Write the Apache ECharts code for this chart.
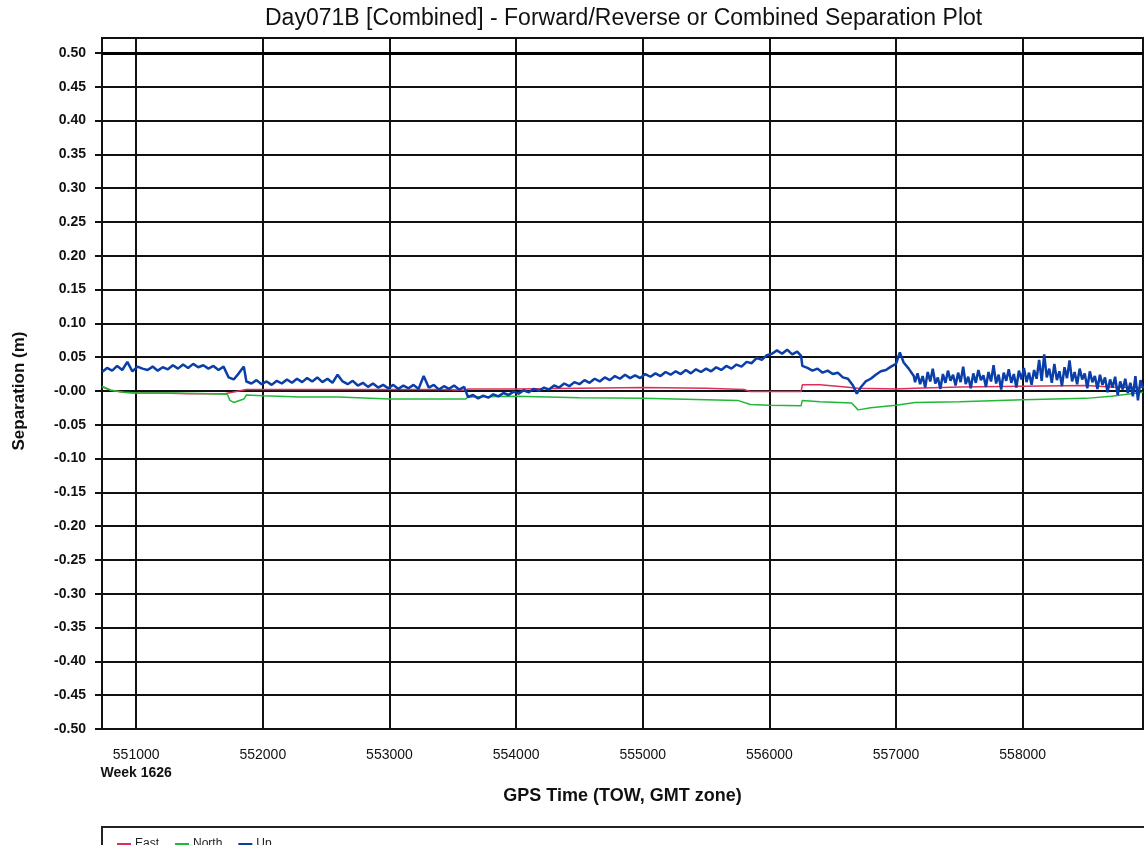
<!DOCTYPE html>
<html>
<head>
<meta charset="utf-8">
<script src="https://cdn.jsdelivr.net/npm/echarts@6/dist/echarts.min.js"></script>
<style>
html,body{margin:0;padding:0;background:#fff;}
#chart{width:1144px;height:845px;}
</style>
</head>
<body>
<div id="chart"></div>
<script>
// ---- data ----
const titleText = 'Day071B [Combined] - Forward/Reverse or Combined Separation Plot';
const xAxisName = 'GPS Time (TOW, GMT zone)';
const yAxisName = 'Separation (m)';
const seriesNames = ['East', 'North', 'Up'];
const weekLabel = 'Week 1626';
const yTickLabels = ['-0.50','-0.45','-0.40','-0.35','-0.30','-0.25','-0.20','-0.15','-0.10','-0.05','-0.00',
                     '0.05','0.10','0.15','0.20','0.25','0.30','0.35','0.40','0.45','0.50'];

const eastData = [
  [550730,0.006],[550800,0.001],[550900,-0.002],[551000,-0.003],[551200,-0.003],[551400,-0.004],
  [551600,-0.004],[551700,-0.004],[551760,-0.002],[551870,0.002],[552200,0.002],[552600,0.002],
  [553000,0.002],[553400,0.002],[553600,0.001],[553620,0.003],[554000,0.003],[554500,0.004],
  [555000,0.005],[555500,0.004],[555800,0.002],[555850,-0.001],[556000,-0.001],[556250,-0.001],
  [556260,0.009],[556400,0.009],[556600,0.006],[556700,0.004],[557000,0.003],[557150,0.004],
  [557500,0.006],[558000,0.007],[558500,0.008],[558700,0.006],[558950,0.005]
];

const northData = [
  [550730,0.007],[550800,0.001],[550900,-0.002],[551000,-0.003],[551300,-0.003],[551600,-0.004],
  [551720,-0.005],[551740,-0.014],[551770,-0.017],[551850,-0.012],[551870,-0.006],[552000,-0.007],
  [552300,-0.009],[552600,-0.009],[553000,-0.012],[553300,-0.012],[553600,-0.012],[553620,-0.009],
  [554000,-0.008],[554500,-0.010],[555000,-0.011],[555500,-0.013],[555750,-0.014],[555850,-0.020],
  [556000,-0.021],[556250,-0.022],[556260,-0.014],[556400,-0.016],[556650,-0.018],[556700,-0.028],
  [556800,-0.025],[557000,-0.021],[557150,-0.017],[557500,-0.016],[558000,-0.013],[558500,-0.011],
  [558700,-0.008],[558950,-0.002]
];

const upData = [
  [550730,0.028],[550770,0.034],[550810,0.030],[550850,0.037],[550890,0.031],[550930,0.043],
  [550970,0.029],[551010,0.036],[551050,0.033],[551090,0.031],[551130,0.036],[551170,0.030],
  [551210,0.035],[551250,0.032],[551290,0.038],[551330,0.033],[551370,0.039],[551410,0.034],
  [551450,0.040],[551490,0.035],[551530,0.038],[551570,0.033],[551610,0.037],[551650,0.031],
  [551690,0.036],[551730,0.020],[551770,0.017],[551810,0.026],[551850,0.036],[551870,0.014],
  [551910,0.011],[551950,0.016],[551990,0.010],[552030,0.014],[552070,0.009],[552110,0.015],
  [552150,0.011],[552190,0.017],[552230,0.012],[552270,0.018],[552310,0.013],[552350,0.019],
  [552390,0.014],[552430,0.020],[552470,0.013],[552510,0.018],[552550,0.012],[552590,0.024],
  [552630,0.014],[552670,0.010],[552710,0.015],[552750,0.008],[552790,0.012],[552830,0.006],
  [552870,0.011],[552910,0.005],[552950,0.009],[552990,0.004],[553030,0.009],[553070,0.003],
  [553110,0.008],[553150,0.004],[553190,0.009],[553230,0.003],[553270,0.022],[553310,0.005],
  [553350,0.009],[553390,0.002],[553430,0.007],[553470,0.003],[553510,0.008],[553550,0.002],
  [553590,0.006],[553620,-0.009],[553660,-0.006],[553700,-0.011],[553740,-0.007],[553780,-0.010],
  [553820,-0.005],[553860,-0.008],[553900,-0.003],[553940,-0.006],[553980,-0.001],[554020,-0.004],
  [554060,0.001],[554100,-0.002],[554140,0.003],[554180,0.000],[554220,0.005],[554260,0.002],
  [554300,0.008],[554340,0.005],[554380,0.011],[554420,0.007],[554460,0.013],[554500,0.010],
  [554540,0.016],[554580,0.012],[554620,0.018],[554660,0.014],[554700,0.020],[554740,0.016],
  [554780,0.022],[554820,0.018],[554860,0.024],[554900,0.019],[554940,0.023],[554980,0.019],
  [555020,0.025],[555060,0.021],[555100,0.026],[555140,0.022],[555180,0.028],[555220,0.024],
  [555260,0.029],[555300,0.025],[555340,0.031],[555380,0.026],[555420,0.032],[555460,0.028],
  [555500,0.033],[555540,0.029],[555580,0.035],[555620,0.031],[555660,0.037],[555700,0.033],
  [555740,0.039],[555780,0.036],[555820,0.043],[555860,0.041],[555900,0.049],[555940,0.046],
  [555980,0.053],[556020,0.055],[556060,0.060],[556100,0.055],[556140,0.061],[556180,0.054],
  [556220,0.058],[556250,0.052],[556260,0.037],[556300,0.034],[556340,0.030],[556380,0.033],
  [556420,0.027],[556460,0.030],[556500,0.025],[556540,0.027],[556580,0.020],[556620,0.018],
  [556660,0.008],[556690,-0.004],[556720,0.005],[556760,0.014],[556800,0.018],[556840,0.024],
  [556880,0.029],[556920,0.031],[556960,0.036],[557000,0.040],[557030,0.057],[557060,0.042],
  [557100,0.033],[557140,0.022],
  [557150,0.013],[557170,0.026],[557190,0.010],[557210,0.022],[557230,0.005],[557250,0.028],
  [557270,0.014],[557290,0.033],[557310,0.011],[557330,0.020],[557350,0.003],[557370,0.025],
  [557390,0.012],[557410,0.030],[557430,0.015],[557450,0.024],[557470,0.008],[557490,0.027],
  [557510,0.013],[557530,0.036],[557550,0.010],[557570,0.021],[557590,0.004],[557610,0.026],
  [557630,0.012],[557650,0.031],[557670,0.016],[557690,0.023],[557710,0.006],[557730,0.028],
  [557750,0.014],[557770,0.038],[557790,0.011],[557810,0.024],[557830,0.002],[557850,0.027],
  [557870,0.015],[557890,0.032],[557910,0.012],[557930,0.025],[557950,0.005],[557970,0.030],
  [557990,0.017],[558010,0.034],[558030,0.013],[558050,0.027],[558070,0.009],[558090,0.031],
  [558110,0.018],[558130,0.046],[558150,0.015],[558170,0.054],[558190,0.020],[558210,0.033],
  [558230,0.012],[558250,0.040],[558270,0.016],[558290,0.029],[558310,0.007],[558330,0.035],
  [558350,0.019],[558370,0.045],[558390,0.014],[558410,0.028],[558430,0.010],[558450,0.033],
  [558470,0.017],[558490,0.026],[558510,0.004],[558530,0.029],[558550,0.013],[558570,0.022],
  [558590,0.003],[558610,0.024],[558630,0.009],[558650,0.020],[558670,-0.002],[558690,0.017],
  [558710,0.005],[558730,0.021],[558750,-0.006],[558770,0.014],[558790,0.002],[558810,0.018],
  [558830,-0.003],[558850,0.012],[558870,-0.008],[558890,0.022],[558910,-0.014],[558930,0.016],
  [558950,0.004]
];

const xMin = 550730, xMax = 558950;
const yMin = -0.5, yMax = 0.522, yStep = 0.05;
const colors = ['#dc2f5a', '#20b838', '#0a3ea8'];

// ---- chart ----
const chart = echarts.init(document.getElementById('chart'), null, {renderer: 'canvas'});
const FONT = 'Liberation Sans, Arial, sans-serif';

chart.setOption({
  animation: false,
  backgroundColor: '#fff',
  color: colors,
  textStyle: {fontFamily: FONT},
  legend: {
    data: seriesNames,
    left: 112,
    top: 833,
    itemWidth: 14,
    itemHeight: 2,
    itemGap: 16,
    icon: 'rect',
    textStyle: {fontFamily: FONT, fontSize: 12, color: '#222', padding: [0, 0, 0, -1]}
  },
  graphic: [
    {
      type: 'text',
      left: 265, top: 7,
      style: {
        text: titleText,
        fontFamily: FONT, fontSize: 23, fontWeight: 'normal', fill: '#111'
      },
      silent: true
    },
    {
      type: 'rect',
      shape: {x: 102, y: 827, width: 1060, height: 40},
      style: {fill: 'none', stroke: '#222', lineWidth: 2},
      silent: true
    }
  ],
  grid: {
    left: 102, right: 1, top: 38, bottom: 116,
    show: true, borderColor: '#111', borderWidth: 2, backgroundColor: 'transparent'
  },
  xAxis: {
    type: 'value',
    min: xMin, max: xMax,
    splitNumber: 8,
    name: xAxisName,
    nameLocation: 'middle',
    nameGap: 55,
    nameTextStyle: {fontFamily: FONT, fontSize: 18, fontWeight: 'bold', color: '#111'},
    axisLine: {show: true, lineStyle: {color: '#111', width: 2}},
    axisTick: {show: true, length: 8, lineStyle: {color: '#111', width: 2}},
    splitLine: {show: true, lineStyle: {color: '#111', width: 2}},
    axisLabel: {
      showMinLabel: false, showMaxLabel: false,
      margin: 17,
      fontFamily: FONT, fontSize: 14, color: '#111',
      formatter: function (v) {
        if (Math.round(v) === 551000) return String(Math.round(v)) + '\n{w|' + weekLabel + '}';
        return String(Math.round(v));
      },
      rich: {w: {fontFamily: FONT, fontSize: 14, fontWeight: 'bold', color: '#111', lineHeight: 18}},
      lineHeight: 18
    }
  },
  yAxis: {
    type: 'value',
    min: yMin, max: yMax, interval: yStep,
    name: yAxisName,
    nameLocation: 'middle',
    nameGap: 74,
    nameTextStyle: {fontFamily: FONT, fontSize: 17, fontWeight: 'bold', color: '#111', padding: [0, 0, 0, -15]},
    axisLine: {show: true, lineStyle: {color: '#111', width: 2}},
    axisTick: {show: true, length: 7, lineStyle: {color: '#111', width: 2}},
    splitLine: {show: true, lineStyle: {color: '#111', width: 2}},
    axisLabel: {
      showMaxLabel: false,
      margin: 16,
      fontFamily: FONT, fontSize: 14, fontWeight: 'bold', color: '#111',
      formatter: function (v) {
        const i = Math.round((v - yMin) / yStep);
        return (i >= 0 && i < yTickLabels.length && Math.abs(v - (yMin + i * yStep)) < 1e-6) ? yTickLabels[i] : '';
      }
    }
  },
  series: [
    {
      name: seriesNames[0], type: 'line', data: eastData, showSymbol: false, symbol: 'none',
      lineStyle: {width: 1.5, color: colors[0]}, z: 3,
      markLine: {
        silent: true, symbol: 'none', label: {show: false},
        lineStyle: {color: '#000', width: 3, type: 'solid'},
        data: [{yAxis: 0.5}]
      }
    },
    {
      name: seriesNames[1], type: 'line', data: northData, showSymbol: false, symbol: 'none',
      lineStyle: {width: 1.5, color: colors[1]}, z: 4
    },
    {
      name: seriesNames[2], type: 'line', data: upData, showSymbol: false, symbol: 'none',
      lineStyle: {width: 2.5, color: colors[2]}, z: 5
    }
  ]
});
</script>
</body>
</html>
